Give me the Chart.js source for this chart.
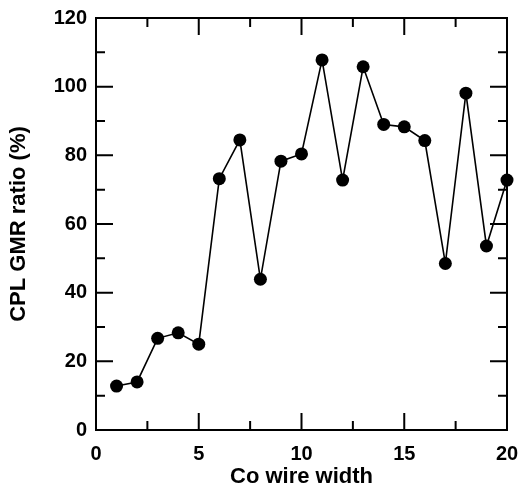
<!DOCTYPE html>
<html>
<head>
<meta charset="utf-8">
<script src="https://cdn.jsdelivr.net/npm/chart.js@4"></script>
<style>
  body { margin: 0; background: #fff; }
  canvas { display: block; }
</style>
</head>
<body>
<canvas id="chart" width="519" height="485"></canvas>
<script>
// Co wire width vs CPL GMR ratio
const wireWidth = [1, 2, 3, 4, 5, 6, 7, 8, 9, 10, 11, 12, 13, 14, 15, 16, 17, 18, 19, 20];
const gmrRatio = [12.8, 14.0, 26.7, 28.3, 25.0, 73.2, 84.5, 43.9, 78.3, 80.4, 107.8, 72.8, 105.8, 89.0, 88.3, 84.3, 48.5, 98.1, 53.6, 72.8];

const xMajor = [0, 5, 10, 15, 20];
const xMinor = [2.5, 7.5, 12.5, 17.5];
const yMajor = [0, 20, 40, 60, 80, 100, 120];
const yMinor = [10, 30, 50, 70, 90, 110];

const fontFamily = '"Liberation Sans", Arial, Helvetica, sans-serif';

// draws the box and inward ticks on all four sides
const frameTicks = {
    id: 'frameTicks',
    beforeDatasetsDraw(chart) {
        const ctx = chart.ctx;
        const a = chart.chartArea;
        const xs = chart.scales.x;
        const ys = chart.scales.y;
        ctx.save();
        ctx.strokeStyle = '#000';
        ctx.lineWidth = 2;
        ctx.strokeRect(a.left, a.top, a.right - a.left, a.bottom - a.top);

        function xTick(v, len) {
            const px = xs.getPixelForValue(v);
            ctx.beginPath();
            ctx.moveTo(px, a.bottom); ctx.lineTo(px, a.bottom - len);
            ctx.moveTo(px, a.top); ctx.lineTo(px, a.top + len);
            ctx.stroke();
        }
        function yTick(v, len) {
            const py = ys.getPixelForValue(v);
            ctx.beginPath();
            ctx.moveTo(a.left, py); ctx.lineTo(a.left + len, py);
            ctx.moveTo(a.right, py); ctx.lineTo(a.right - len, py);
            ctx.stroke();
        }
        xMajor.forEach(v => xTick(v, 17));
        xMinor.forEach(v => xTick(v, 9));
        yMajor.forEach(v => yTick(v, 17));
        yMinor.forEach(v => yTick(v, 9));
        ctx.restore();
    }
};

new Chart(document.getElementById('chart').getContext('2d'), {
    type: 'scatter',
    data: {
        datasets: [{
            data: wireWidth.map((x, i) => ({ x: x, y: gmrRatio[i] })),
            showLine: true,
            borderColor: '#000',
            borderWidth: 1.6,
            backgroundColor: '#000',
            pointBackgroundColor: '#000',
            pointBorderColor: '#000',
            pointRadius: 6.5,
            pointBorderWidth: 0,
            clip: false
        }]
    },
    options: {
        responsive: false,
        animation: false,
        layout: { padding: { left: 0, right: 12, top: 18, bottom: 0 } },
        plugins: {
            legend: { display: false },
            tooltip: { enabled: false }
        },
        scales: {
            x: {
                type: 'linear',
                min: 0,
                max: 20,
                afterFit(scale) {
                    scale.height = 55;
                    scale.paddingLeft = 0;
                    scale.paddingRight = 0;
                },
                afterBuildTicks(scale) { scale.ticks = xMajor.map(v => ({ value: v })); },
                grid: { display: false, drawTicks: false },
                border: { display: false },
                ticks: {
                    color: '#000',
                    padding: 12,
                    maxRotation: 0,
                    font: { family: fontFamily, size: 20, weight: 'bold' }
                },
                title: {
                    display: true,
                    text: 'Co wire width',
                    color: '#000',
                    padding: { top: 0, bottom: -5 },
                    font: { family: fontFamily, size: 22, weight: 'bold' }
                }
            },
            y: {
                type: 'linear',
                min: 0,
                max: 120,
                afterFit(scale) {
                    scale.width = 96;
                    scale.paddingTop = 0;
                    scale.paddingBottom = 0;
                },
                afterBuildTicks(scale) { scale.ticks = yMajor.map(v => ({ value: v })); },
                grid: { display: false, drawTicks: false },
                border: { display: false },
                ticks: {
                    color: '#000',
                    padding: 9,
                    font: { family: fontFamily, size: 20, weight: 'bold' }
                },
                title: {
                    display: true,
                    text: 'CPL GMR ratio (%)',
                    color: '#000',
                    padding: { top: 6, bottom: 0 },
                    font: { family: fontFamily, size: 22, weight: 'bold' }
                }
            }
        }
    },
    plugins: [frameTicks]
});
</script>
</body>
</html>
